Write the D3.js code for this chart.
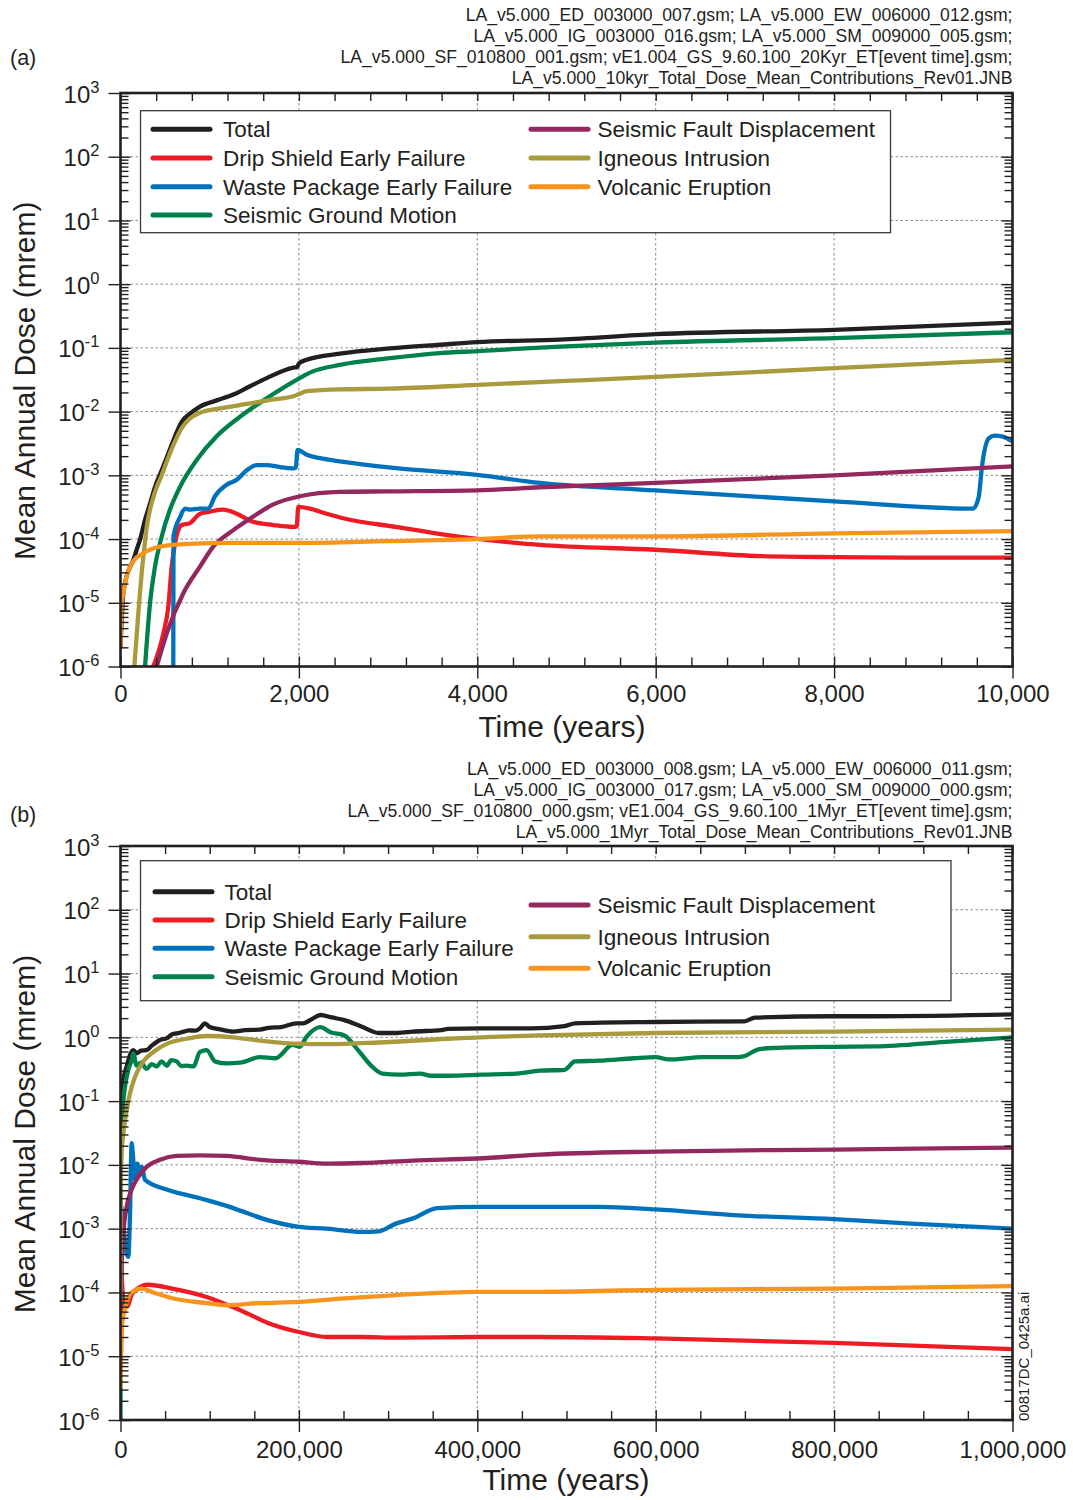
<!DOCTYPE html>
<html>
<head>
<meta charset="utf-8">
<script src="https://cdn.jsdelivr.net/npm/d3@7"></script>
<style>
  html, body { margin: 0; padding: 0; background: #fff; }
  svg { display: block; }
</style>
</head>
<body>
<svg id="chart" width="1073" height="1500"></svg>
<script>
// ---------------- series names and colours ----------------
const seriesKeys = ["total", "dripShield", "wastePackage", "groundMotion", "faultDisp", "igneous", "volcanic"];
const seriesLabels = {
  total: "Total",
  dripShield: "Drip Shield Early Failure",
  wastePackage: "Waste Package Early Failure",
  groundMotion: "Seismic Ground Motion",
  faultDisp: "Seismic Fault Displacement",
  igneous: "Igneous Intrusion",
  volcanic: "Volcanic Eruption"
};
const seriesColors = {
  total: "#231f20",
  dripShield: "#ed1c24",
  wastePackage: "#0072bc",
  groundMotion: "#00804a",
  faultDisp: "#93285f",
  igneous: "#a99a3d",
  volcanic: "#f7941d"
};
// order in which the curves are stroked (later ones sit on top)
const drawOrder = ["total", "groundMotion", "dripShield", "wastePackage", "faultDisp", "igneous", "volcanic"];
const legendLeftColumn = ["total", "dripShield", "wastePackage", "groundMotion"];
const legendRightColumn = ["faultDisp", "igneous", "volcanic"];

// ---------------- (a) 10,000-year mean annual dose, [years, mrem] ----------------
const aTotal = [[0,2.0e-6],[31,1.4e-5],[69,2.6e-5],[144,4.7e-5],[181,6.8e-5],[219,9.8e-5],[275,2.0e-4],[331,3.6e-4],[387,6.6e-4],[462,1.2e-3],[536,2.2e-3],[611,4.1e-3],[686,6.9e-3],[779,9.3e-3],[891,1.2e-2],[1078,1.5e-2],[1265,1.85e-2],[1452,2.5e-2],[1639,3.35e-2],[1937,4.9e-2],[1980,5.0e-2],[2000,5.7e-2],[2087,6.5e-2],[2460,8.1e-2],[3021,9.8e-2],[3582,0.112],[4000,0.123],[4927,0.135],[6000,0.164],[8000,0.192],[10000,0.249]];
const aDripShield = [[368,1.0e-6],[480,3.3e-6],[536,8.7e-6],[574,3.7e-5],[611,8.5e-5],[686,1.66e-4],[779,1.78e-4],[891,2.5e-4],[1003,2.7e-4],[1152,2.9e-4],[1303,2.5e-4],[1489,1.86e-4],[1713,1.66e-4],[1937,1.55e-4],[1975,1.58e-4],[1993,3.2e-4],[2124,3.0e-4],[2311,2.5e-4],[2510,2.1e-4],[3088,1.55e-4],[3668,1.15e-4],[4703,8.1e-5],[6000,6.8e-5],[7180,5.4e-5],[8000,5.2e-5],[9010,5.1e-5],[10000,5.1e-5]];
const aWastePackage = [[592,1.0e-6],[594,1.1e-4],[667,2.2e-4],[723,3.0e-4],[780,2.9e-4],[891,3.0e-4],[985,3.0e-4],[1059,4.7e-4],[1190,7.1e-4],[1303,8.5e-4],[1415,1.2e-3],[1527,1.45e-3],[1639,1.45e-3],[1788,1.35e-3],[1937,1.29e-3],[1965,1.32e-3],[1985,2.5e-3],[2087,2.1e-3],[2236,1.86e-3],[2460,1.66e-3],[3088,1.3e-3],[4000,1.02e-3],[4703,7.6e-4],[6000,5.8e-4],[8000,3.9e-4],[9557,3.0e-4],[9620,4.5e-4],[9658,1.38e-3],[9733,3.8e-3],[9800,4.2e-3],[9880,4.1e-3],[10000,3.4e-3]];
const aGroundMotion = [[275,1.0e-6],[331,9.8e-6],[387,3.7e-5],[462,1.1e-4],[555,2.9e-4],[667,6.6e-4],[854,1.74e-3],[1078,4.1e-3],[1340,8.3e-3],[1639,1.62e-2],[2000,3.3e-2],[2143,4.2e-2],[2460,5.4e-2],[3021,6.9e-2],[3582,8.3e-2],[4000,8.9e-2],[4927,0.105],[6000,0.121],[8000,0.142],[10000,0.176]];
const aFaultDisp = [[406,1.0e-6],[518,3.3e-6],[704,1.41e-5],[891,3.7e-5],[1040,7.6e-5],[1265,1.38e-4],[1433,2.0e-4],[1713,3.5e-4],[2012,4.7e-4],[2460,5.5e-4],[3000,5.6e-4],[4000,5.8e-4],[4703,6.5e-4],[6000,7.6e-4],[8000,1.0e-3],[10000,1.38e-3]];
const aIgneous = [[155,1.0e-6],[200,6.9e-6],[237,2.9e-5],[275,9.0e-5],[293,1.5e-4],[331,2.9e-4],[387,5.5e-4],[462,1.0e-3],[536,1.9e-3],[611,3.4e-3],[686,5.5e-3],[779,7.8e-3],[891,9.6e-3],[1115,1.12e-2],[1415,1.32e-2],[1713,1.55e-2],[1937,1.74e-2],[1990,1.86e-2],[2087,2.09e-2],[2460,2.24e-2],[3021,2.29e-2],[4000,2.63e-2],[4927,3.0e-2],[6000,3.5e-2],[8000,4.8e-2],[10000,6.5e-2]];
const aVolcanic = [[0,2.0e-6],[19,1.1e-5],[31,1.4e-5],[69,2.6e-5],[144,4.5e-5],[256,6.0e-5],[443,7.6e-5],[704,8.3e-5],[1265,8.7e-5],[2000,8.7e-5],[3000,9.3e-5],[4000,1.0e-4],[4703,1.1e-4],[6000,1.1e-4],[8000,1.23e-4],[10000,1.33e-4]];

// ---------------- (b) 1,000,000-year mean annual dose, [years, mrem] ----------------
const bTotal = [[300,0.05],[1000,0.105],[3200,0.214],[6900,0.347],[10600,0.525],[14300,0.63],[16300,0.60],[18100,0.56],[23000,0.62],[29300,0.63],[35000,0.74],[44300,0.91],[52000,0.97],[58000,1.12],[63000,1.15],[70000,1.22],[77000,1.29],[84000,1.27],[89100,1.38],[94600,1.66],[100000,1.45],[110000,1.35],[126500,1.23],[140000,1.30],[156400,1.32],[166000,1.41],[180000,1.45],[197000,1.66],[204700,1.66],[215000,1.95],[224000,2.24],[237000,2.05],[251000,1.86],[270000,1.48],[289500,1.17],[310000,1.17],[328000,1.23],[360000,1.30],[367000,1.36],[405500,1.38],[460000,1.38],[497800,1.50],[509500,1.66],[600000,1.74],[699700,1.78],[711300,2.04],[800000,2.14],[847000,2.14],[1000000,2.29]];
const bDripShield = [[0,1.0e-3],[1500,1.6e-4],[4000,7.1e-5],[7700,6.0e-5],[12000,8.9e-5],[19300,1.15e-4],[30900,1.32e-4],[58000,1.15e-4],[96500,8.5e-5],[135000,5.2e-5],[166000,3.3e-5],[200000,2.4e-5],[231500,2.0e-5],[270000,2.0e-5],[310000,1.95e-5],[400000,2.0e-5],[470000,2.0e-5],[600000,1.9e-5],[800000,1.62e-5],[1000000,1.29e-5]];
const bWastePackage = [[1000,2.2e-3],[5000,6.3e-4],[6900,4.1e-4],[8800,3.6e-4],[10600,1.55e-3],[12500,2.2e-2],[14300,1.2e-2],[16300,5.8e-3],[18800,1.05e-2],[21100,7.4e-3],[23700,9.3e-3],[27500,5.8e-3],[51800,4.1e-3],[89100,3.0e-3],[126500,2.1e-3],[135000,1.9e-3],[166000,1.35e-3],[200000,1.07e-3],[231500,1.0e-3],[270000,8.9e-4],[289500,9.1e-4],[308800,1.2e-3],[328000,1.45e-3],[355000,2.1e-3],[400000,2.2e-3],[470000,2.2e-3],[536700,2.2e-3],[600000,2.0e-3],[692000,1.62e-3],[800000,1.41e-3],[886000,1.2e-3],[1000000,1.0e-3]];
const bGroundMotion = [[0,1.0e-6],[300,6.3e-3],[1000,1.9e-2],[2500,7.2e-2],[5000,0.166],[8800,0.31],[12500,0.44],[14300,0.56],[18100,0.36],[23000,0.40],[29300,0.32],[35000,0.38],[40600,0.35],[46000,0.42],[51800,0.36],[57000,0.44],[63000,0.42],[68000,0.355],[74200,0.36],[81700,0.35],[89100,0.59],[96600,0.63],[105900,0.42],[119000,0.39],[134000,0.40],[156400,0.49],[173700,0.47],[193000,0.76],[200800,0.71],[208500,1.02],[224000,1.45],[235500,1.20],[251000,1.07],[266300,0.63],[281800,0.35],[293400,0.27],[312700,0.26],[335900,0.27],[347400,0.25],[366800,0.25],[405400,0.26],[443900,0.27],[470000,0.30],[497800,0.31],[509500,0.42],[536700,0.43],[575500,0.47],[600000,0.49],[614300,0.45],[653100,0.49],[692000,0.49],[699700,0.51],[715200,0.65],[730700,0.68],[800000,0.71],[847000,0.72],[924800,0.85],[1000000,1.0]];
const bFaultDisp = [[0,1.5e-5],[1300,2.5e-4],[3200,8.3e-4],[6900,2.2e-3],[12500,4.1e-3],[20000,6.5e-3],[29300,9.3e-3],[44300,1.2e-2],[63000,1.38e-2],[89100,1.41e-2],[119000,1.38e-2],[156400,1.2e-2],[200000,1.12e-2],[231500,1.05e-2],[270000,1.07e-2],[328000,1.17e-2],[400000,1.26e-2],[470000,1.45e-2],[600000,1.62e-2],[800000,1.74e-2],[1000000,1.86e-2]];
const bIgneous = [[0,7.6e-5],[200,3.2e-3],[1000,1.35e-2],[3100,3.1e-2],[6900,7.2e-2],[10600,0.132],[16300,0.24],[25600,0.42],[36800,0.59],[51800,0.79],[74200,0.95],[96600,1.05],[126500,1.0],[156400,0.89],[199000,0.79],[231500,0.78],[289500,0.83],[366800,0.95],[470300,1.07],[600000,1.17],[800000,1.23],[1000000,1.32]];
const bVolcanic = [[0,3.3e-6],[2000,3.3e-5],[5800,6.0e-5],[11600,9.8e-5],[23200,1.15e-4],[38700,9.8e-5],[58000,8.1e-5],[96500,6.8e-5],[119700,6.3e-5],[154500,6.8e-5],[200000,7.1e-5],[251000,8.1e-5],[308800,9.1e-5],[400000,1.02e-4],[470000,1.02e-4],[600000,1.1e-4],[800000,1.15e-4],[1000000,1.26e-4]];

// ---------------- axes: tick values and text ----------------
const yDomain = [1e-6, 1e3];
const yMajorExponents = [-6, -5, -4, -3, -2, -1, 0, 1, 2, 3];
const aXTicks = [0, 2000, 4000, 6000, 8000, 10000];
const aXMinorStep = 400;
const bXTicks = [0, 200000, 400000, 600000, 800000, 1000000];
const bXMinorStep = 50000;
const xTitle = "Time (years)";
const yTitle = "Mean Annual Dose (mrem)";
const aHeader = [
  "LA_v5.000_ED_003000_007.gsm; LA_v5.000_EW_006000_012.gsm;",
  "LA_v5.000_IG_003000_016.gsm; LA_v5.000_SM_009000_005.gsm;",
  "LA_v5.000_SF_010800_001.gsm; vE1.004_GS_9.60.100_20Kyr_ET[event time].gsm;",
  "LA_v5.000_10kyr_Total_Dose_Mean_Contributions_Rev01.JNB"
];
const bHeader = [
  "LA_v5.000_ED_003000_008.gsm; LA_v5.000_EW_006000_011.gsm;",
  "LA_v5.000_IG_003000_017.gsm; LA_v5.000_SM_009000_000.gsm;",
  "LA_v5.000_SF_010800_000.gsm; vE1.004_GS_9.60.100_1Myr_ET[event time].gsm;",
  "LA_v5.000_1Myr_Total_Dose_Mean_Contributions_Rev01.JNB"
];
const fileTag = "00817DC_0425a.ai";

// ---------------- drawing ----------------
const FONT = '"Liberation Sans", Arial, Helvetica, sans-serif';
const INK = "#231f20";
const svg = d3.select("#chart");
svg.append("rect").attr("width", 1073).attr("height", 1500).attr("fill", "#fff");
const defs = svg.append("defs");

function styleAxis(g) {
  g.select(".domain").remove();
  g.selectAll(".tick line").attr("stroke", INK).attr("stroke-width", 1.4);
}

function drawPanel(cfg) {
  const x = d3.scaleLinear().domain([cfg.xTicks[0], cfg.xTicks[cfg.xTicks.length - 1]]).range([cfg.left, cfg.right]);
  const y = d3.scaleLog().domain(yDomain).range([cfg.bottom, cfg.top]);
  const root = svg.append("g").attr("font-family", FONT);

  const yMajors = yMajorExponents.map(e => Math.pow(10, e));
  const yMinors = [];
  yMajorExponents.slice(0, -1).forEach(e => {
    for (let m = 2; m <= 9; m++) yMinors.push(m * Math.pow(10, e));
  });
  const xMax = cfg.xTicks[cfg.xTicks.length - 1];
  const xMinors = d3.range(0, xMax + 1, cfg.xMinorStep).filter(v => !cfg.xTicks.includes(v));

  // dotted grid at the labelled ticks
  const grid = root.append("g").attr("stroke", "#8a8a8a").attr("stroke-width", 1).attr("stroke-dasharray", "2.5,2.5");
  grid.selectAll("line.gx").data(cfg.xTicks.slice(1, -1)).join("line")
    .attr("x1", d => x(d)).attr("x2", d => x(d)).attr("y1", cfg.top).attr("y2", cfg.bottom);
  grid.selectAll("line.gy").data(yMajors.slice(1, -1)).join("line")
    .attr("x1", cfg.left).attr("x2", cfg.right).attr("y1", d => y(d)).attr("y2", d => y(d));

  // curves
  const clipId = "plot-clip-" + cfg.id;
  defs.append("clipPath").attr("id", clipId).append("rect")
    .attr("x", cfg.left).attr("y", cfg.top).attr("width", cfg.right - cfg.left).attr("height", cfg.bottom - cfg.top);
  const line = d3.line().x(d => x(d[0])).y(d => y(d[1])).curve(d3.curveMonotoneX);
  const curves = root.append("g").attr("clip-path", `url(#${clipId})`);
  drawOrder.forEach(k => {
    curves.append("path").datum(cfg.series[k]).attr("d", line)
      .attr("fill", "none").attr("stroke", seriesColors[k]).attr("stroke-width", 4.3)
      .attr("stroke-linejoin", "round").attr("stroke-linecap", "round");
  });

  // legend
  const lg = cfg.legend;
  const leg = root.append("g");
  leg.append("rect").attr("x", lg.x0).attr("y", lg.y0).attr("width", lg.x1 - lg.x0).attr("height", lg.y1 - lg.y0)
    .attr("fill", "#fff").attr("stroke", "#3a3a3a").attr("stroke-width", 1.3);
  const addEntry = (k, sx, tx, cy) => {
    leg.append("line").attr("x1", sx).attr("x2", sx + 57).attr("y1", cy).attr("y2", cy)
      .attr("stroke", seriesColors[k]).attr("stroke-width", 5).attr("stroke-linecap", "round");
    leg.append("text").attr("x", tx).attr("y", cy + 8).attr("font-size", 22.5).attr("fill", INK).text(seriesLabels[k]);
  };
  legendLeftColumn.forEach((k, i) => addEntry(k, lg.leftSwatch, lg.leftText, lg.leftRows[i]));
  legendRightColumn.forEach((k, i) => addEntry(k, lg.rightSwatch, lg.rightText, lg.rightRows[i]));

  // bottom axis: labelled ticks outward, all ticks inward
  root.append("g").attr("transform", `translate(0,${cfg.bottom})`)
    .call(d3.axisBottom(x).tickValues(cfg.xTicks).tickSize(12).tickFormat(d3.format(",")))
    .call(styleAxis)
    .call(g => g.selectAll(".tick text").attr("dy", null).attr("y", cfg.xLabelOffset)
      .attr("font-size", 24).attr("font-family", FONT).attr("fill", INK));
  root.append("g").attr("transform", `translate(0,${cfg.bottom})`)
    .call(d3.axisTop(x).tickValues(cfg.xTicks).tickSize(10).tickFormat("")).call(styleAxis);
  root.append("g").attr("transform", `translate(0,${cfg.bottom})`)
    .call(d3.axisTop(x).tickValues(xMinors).tickSize(9).tickFormat("")).call(styleAxis);
  // top axis: ticks inward
  root.append("g").attr("transform", `translate(0,${cfg.top})`)
    .call(d3.axisBottom(x).tickValues(cfg.xTicks.concat(xMinors)).tickSize(8).tickFormat("")).call(styleAxis);

  // left axis: decades outward with labels, minor ticks inward
  root.append("g").attr("transform", `translate(${cfg.left},0)`)
    .call(d3.axisLeft(y).tickValues(yMajors).tickSize(12).tickFormat(""))
    .call(styleAxis)
    .call(g => g.selectAll(".tick").each(function (d) {
      const t = d3.select(this).append("text").attr("x", -21).attr("y", 9).attr("text-anchor", "end")
        .attr("fill", INK).attr("font-family", FONT);
      t.append("tspan").attr("font-size", 24).text("10");
      t.append("tspan").attr("font-size", 16.5).attr("dy", -10).text(String(Math.round(Math.log10(d))));
    }));
  root.append("g").attr("transform", `translate(${cfg.left},0)`)
    .call(d3.axisRight(y).tickValues(yMajors).tickSize(10).tickFormat("")).call(styleAxis);
  root.append("g").attr("transform", `translate(${cfg.left},0)`)
    .call(d3.axisRight(y).tickValues(yMinors).tickSize(8).tickFormat("")).call(styleAxis);
  // right axis: ticks inward
  root.append("g").attr("transform", `translate(${cfg.right},0)`)
    .call(d3.axisLeft(y).tickValues(yMajors).tickSize(11).tickFormat("")).call(styleAxis);
  root.append("g").attr("transform", `translate(${cfg.right},0)`)
    .call(d3.axisLeft(y).tickValues(yMinors).tickSize(8).tickFormat("")).call(styleAxis);

  // frame
  root.append("rect").attr("x", cfg.left).attr("y", cfg.top)
    .attr("width", cfg.right - cfg.left).attr("height", cfg.bottom - cfg.top)
    .attr("fill", "none").attr("stroke", INK).attr("stroke-width", 2.6);

  // axis titles
  root.append("text").attr("x", cfg.xTitleX).attr("y", cfg.bottom + 70).attr("text-anchor", "middle")
    .attr("font-size", 30).attr("fill", INK).text(xTitle);
  root.append("text").attr("transform", `translate(35,${(cfg.top + cfg.bottom) / 2 + 1}) rotate(-90)`)
    .attr("text-anchor", "middle").attr("font-size", 30).attr("fill", INK).text(yTitle);

  // panel letter and file list
  root.append("text").attr("x", 10).attr("y", cfg.letterY).attr("font-size", 21.5).attr("fill", INK).text(cfg.letter);
  const hdr = root.append("g").attr("font-size", 17.6).attr("fill", INK).attr("text-anchor", "end");
  cfg.header.forEach((s, i) => {
    hdr.append("text").attr("x", cfg.right).attr("y", cfg.headerY + i * 21).text(s);
  });
}

drawPanel({
  id: "a", letter: "(a)", letterY: 65, header: aHeader, headerY: 21,
  left: 120.5, right: 1012.5, top: 93, bottom: 666.5,
  xTicks: aXTicks, xMinorStep: aXMinorStep, xLabelOffset: 35, xTitleX: 562,
  series: { total: aTotal, dripShield: aDripShield, wastePackage: aWastePackage, groundMotion: aGroundMotion,
            faultDisp: aFaultDisp, igneous: aIgneous, volcanic: aVolcanic },
  legend: { x0: 140.5, x1: 890.5, y0: 110.7, y1: 232.7,
            leftSwatch: 153, leftText: 223, leftRows: [129.3, 158, 186.7, 215],
            rightSwatch: 531, rightText: 597.5, rightRows: [129.3, 158, 186.7] }
});

drawPanel({
  id: "b", letter: "(b)", letterY: 822, header: bHeader, headerY: 775,
  left: 120.5, right: 1012.5, top: 846, bottom: 1420,
  xTicks: bXTicks, xMinorStep: bXMinorStep, xLabelOffset: 38, xTitleX: 566,
  series: { total: bTotal, dripShield: bDripShield, wastePackage: bWastePackage, groundMotion: bGroundMotion,
            faultDisp: bFaultDisp, igneous: bIgneous, volcanic: bVolcanic },
  legend: { x0: 140.5, x1: 951, y0: 860.7, y1: 1000.7,
            leftSwatch: 155, leftText: 224.5, leftRows: [891.7, 920, 948.3, 976.7],
            rightSwatch: 531, rightText: 597.5, rightRows: [905, 936.7, 968.3] }
});

// drawing file tag along the right edge of panel (b)
svg.append("text").attr("transform", "translate(1029,1421) rotate(-90)")
  .attr("font-family", FONT).attr("font-size", 15).attr("fill", INK).text(fileTag);
</script>
</body>
</html>
